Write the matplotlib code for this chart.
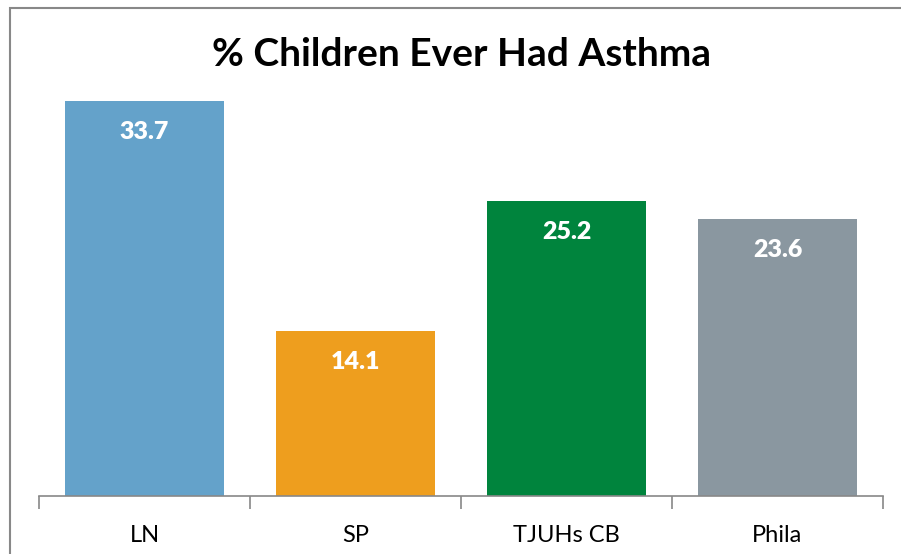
import matplotlib.pyplot as plt
from matplotlib.patches import Rectangle
import numpy as np

categories = ["LN", "SP", "TJUHs CB", "Phila"]
values = [33.7, 14.1, 25.2, 23.6]
colors = ["#64A2CA", "#EE9E1E", "#00843D", "#8A97A0"]

plt.rcParams['font.family'] = ['Lato', 'DejaVu Sans']

fig = plt.figure(figsize=(9.01, 5.54), dpi=100)
ax = fig.add_axes([39 / 901, 1 - 496 / 554, 844 / 901, 408 / 554])

x = np.arange(len(categories))
bars = ax.bar(x, values, width=0.75, color=colors)

# value labels inside the top of each bar
for b, v in zip(bars, values):
    ax.annotate(f"{v:.1f}", (b.get_x() + b.get_width() / 2, v),
                xytext=(0, -31), textcoords="offset pixels",
                ha="center", va="center", color="white", fontsize=18, fontweight="heavy")

ax.set_xlim(-0.5, len(categories) - 0.5)
ax.set_ylim(0, 34.8)
ax.set_xticks(x)
ax.set_xticklabels(categories, fontsize=17)
ax.set_xticks(np.arange(-0.5, len(categories)), minor=True)
ax.tick_params(axis="x", which="major", length=0, pad=21)
ax.tick_params(axis="x", which="minor", length=9, color="#888888", width=1.2)
ax.set_yticks([])
for s in ["top", "right", "left"]:
    ax.spines[s].set_visible(False)
ax.spines["bottom"].set_color("#888888")
ax.spines["bottom"].set_linewidth(1.2)

fig.text(461 / 901, 1 - 55 / 554, "% Children Ever Had Asthma", ha="center", va="center",
         fontsize=28, fontweight="bold")

# chart frame, cut off at right and bottom like the original
fig.add_artist(Rectangle((10 / 901, -0.1), 1.0, 1 - 8 / 554 + 0.1, transform=fig.transFigure,
                         fill=False, edgecolor="#888888", linewidth=1.5))

fig.savefig("out.png", dpi=100)
